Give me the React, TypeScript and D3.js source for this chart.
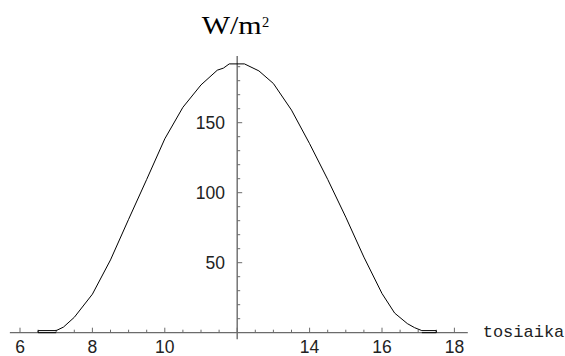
import React from "react";
import * as d3 from "d3";

// Solar irradiance over the day, true solar time (hours) vs W/m²
const hours: number[] = [7.0, 6.5, 6.5, 7.0, 7.2, 7.5, 8.0, 8.5, 9.0, 9.5, 10.0, 10.5, 11.0, 11.45, 11.62, 11.78, 12.2, 12.6, 13.0, 13.5, 14.0, 14.5, 15.0, 15.5, 16.0, 16.35, 16.7, 16.9, 17.1, 17.5, 17.5, 17.1];
const irradiance: number[] = [0, 0, 1.5, 1.5, 4, 11, 27.5, 52, 81, 109.5, 138.5, 161, 177, 187.5, 189, 192, 192, 187, 178, 159, 135, 109.5, 82.5, 54, 28, 14, 6.5, 3.6, 1.5, 1.5, 0, 0];

const xMajorTicks: number[] = [6, 8, 10, 14, 16, 18];
const yMajorTicks: number[] = [50, 100, 150];
const xTitle = "tosiaika";
const yTitle = "W/m";
const yTitleSup = "2";

const W = 565;
const H = 356;

export default function App() {
  const x = d3.scaleLinear().domain([6, 18]).range([20, 454.4]);
  const y = d3.scaleLinear().domain([0, 200]).range([332.7, 52.7]);

  const xMinor = d3.range(6, 18.01, 0.5);
  const yMinor = d3.range(10, 195, 10);

  const line = d3
    .line<number>()
    .x((_, i) => x(hours[i]))
    .y((_, i) => y(irradiance[i]));

  const axisColor = "#6b6b6b";
  const x0 = x(12);
  const y0 = y(0);

  return (
    <svg
      width={W}
      height={H}
      style={{ position: "absolute", left: 0, top: 0, background: "#fff" }}
    >
      {/* horizontal axis */}
      <line x1={x(5.72)} x2={x(18.37)} y1={y0} y2={y0} stroke={axisColor} strokeWidth={1.2} />
      {xMinor.map((t) => {
        const major = Math.abs(t - Math.round(t)) < 1e-6 && Math.round(t) % 2 === 0;
        return (
          <line
            key={"xt" + t}
            x1={x(t)}
            x2={x(t)}
            y1={y0}
            y2={y0 - (major ? 5 : 3)}
            stroke={axisColor}
            strokeWidth={1}
          />
        );
      })}
      {xMajorTicks.map((t) => (
        <text
          key={"xl" + t}
          x={x(t)}
          y={352.5}
          textAnchor="middle"
          fontFamily="'Liberation Sans', Arial, sans-serif"
          fontSize={17.5}
          fill="#222"
        >
          {t}
        </text>
      ))}

      {/* vertical axis */}
      <line x1={x0} x2={x0} y1={y(-4.7)} y2={y(197.6)} stroke={axisColor} strokeWidth={1.4} />
      {yMinor.map((v) => {
        const major = v % 50 === 0;
        return (
          <line
            key={"yt" + v}
            x1={x0}
            x2={x0 + (major ? 5 : 3)}
            y1={y(v)}
            y2={y(v)}
            stroke={axisColor}
            strokeWidth={1}
          />
        );
      })}
      {yMajorTicks.map((v) => (
        <text
          key={"yl" + v}
          x={225}
          y={y(v) + 6.5}
          textAnchor="end"
          fontFamily="'Liberation Sans', Arial, sans-serif"
          fontSize={17.5}
          fill="#222"
        >
          {v}
        </text>
      ))}

      {/* irradiance curve */}
      <path d={line(irradiance) || ""} fill="none" stroke="#000" strokeWidth={1} />

      {/* axis titles */}
      <text
        x={201.7}
        y={33.5}
        fontFamily="'Liberation Serif', 'Times New Roman', serif"
        fontSize={25}
        textLength={60}
        lengthAdjust="spacingAndGlyphs"
        fill="#000"
      >
        {yTitle}
      </text>
      <text
        x={262}
        y={26.7}
        fontFamily="'Liberation Serif', 'Times New Roman', serif"
        fontSize={14.5}
        fill="#000"
      >
        {yTitleSup}
      </text>
      <text
        x={482.7}
        y={336.5}
        fontFamily="'Liberation Mono', 'Courier New', monospace"
        fontSize={17}
        fill="#222"
      >
        {xTitle}
      </text>
    </svg>
  );
}
